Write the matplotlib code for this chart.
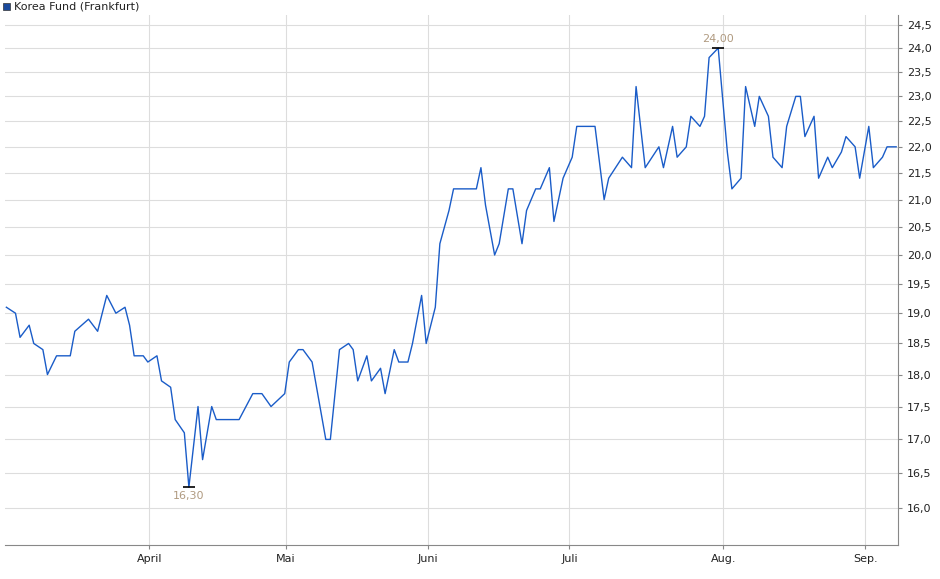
import matplotlib
matplotlib.use("Agg")
import matplotlib.pyplot as plt
import matplotlib.ticker as mticker
import numpy as np

# x position in days counted from 1 March (axis is trading-day spaced), values in EUR
days_since_mar1 = [0, 2, 3, 5, 6, 8, 9, 11, 14, 15, 18, 20, 22, 24, 26, 27, 28, 30, 31, 33,
                   34, 36, 37, 39, 40, 42, 43, 45, 46, 51, 54, 56, 58, 61, 62, 64, 65, 67, 70, 71,
                   73, 75, 76, 77, 79, 80, 82, 83, 85, 86, 88, 89, 91, 92, 94, 95, 97, 98, 103, 104,
                   105, 107, 108, 110, 111, 113, 114, 116, 117, 119, 120, 122, 124, 125, 129, 131, 132, 135, 137, 138,
                   140, 143, 144, 146, 147, 149, 150, 152, 153, 154, 156, 158, 159, 161, 162, 164, 165, 167, 168, 170,
                   171, 173, 174, 175, 177, 178, 180, 181, 183, 184, 186, 187, 189, 190, 192, 193, 195]
prices = [19.1, 19.0, 18.6, 18.8, 18.5, 18.4, 18.0, 18.3, 18.3, 18.7, 18.9, 18.7, 19.3, 19.0, 19.1, 18.8, 18.3, 18.3, 18.2, 18.3,
          17.9, 17.8, 17.3, 17.1, 16.3, 17.5, 16.7, 17.5, 17.3, 17.3, 17.7, 17.7, 17.5, 17.7, 18.2, 18.4, 18.4, 18.2, 17.0, 17.0,
          18.4, 18.5, 18.4, 17.9, 18.3, 17.9, 18.1, 17.7, 18.4, 18.2, 18.2, 18.5, 19.3, 18.5, 19.1, 20.2, 20.8, 21.2, 21.2, 21.6,
          20.9, 20.0, 20.2, 21.2, 21.2, 20.2, 20.8, 21.2, 21.2, 21.6, 20.6, 21.4, 21.8, 22.4, 22.4, 21.0, 21.4, 21.8, 21.6, 23.2,
          21.6, 22.0, 21.6, 22.4, 21.8, 22.0, 22.6, 22.4, 22.6, 23.8, 24.0, 21.9, 21.2, 21.4, 23.2, 22.4, 23.0, 22.6, 21.8, 21.6,
          22.4, 23.0, 23.0, 22.2, 22.6, 21.4, 21.8, 21.6, 21.9, 22.2, 22.0, 21.4, 22.4, 21.6, 21.8, 22.0, 22.0]
month_labels = ["April", "Mai", "Juni", "Juli", "Aug.", "Sep."]
month_pos = [31.3, 61.3, 92.3, 123.4, 157.1, 188.2]
y_ticks = [16.0, 16.5, 17.0, 17.5, 18.0, 18.5, 19.0, 19.5, 20.0, 20.5, 21.0, 21.5,
           22.0, 22.5, 23.0, 23.5, 24.0, 24.5]

fig = plt.figure(figsize=(9.4, 5.79), dpi=100)
ax = fig.add_axes([5 / 940, 34 / 579, 893 / 940, 530 / 579])
ax.plot(days_since_mar1, prices, color="#1a5cc8", linewidth=1.0)

ax.set_yscale("log")
ax.set_ylim(15.49, 24.71)
ax.set_xlim(-0.3, 195.4)
ax.yaxis.set_major_locator(mticker.FixedLocator(y_ticks))
ax.yaxis.set_minor_locator(mticker.NullLocator())
ax.yaxis.set_major_formatter(mticker.FuncFormatter(lambda v, p: f"{v:.1f}".replace(".", ",")))
ax.yaxis.tick_right()
ax.set_xticks(month_pos)
ax.set_xticklabels(month_labels)
ax.tick_params(labelsize=8, length=3, color="#888888", labelcolor="#222222")
ax.grid(True, color="#dddddd", linewidth=0.8)
for s in ["top", "left"]:
    ax.spines[s].set_visible(False)
ax.spines["right"].set_color("#888888")
ax.spines["bottom"].set_color("#888888")

# min / max markers
imin, imax = int(np.argmin(prices)), int(np.argmax(prices))
for i, va, off in [(imin, "top", -3), (imax, "bottom", 3)]:
    ax.plot(days_since_mar1[i], prices[i], marker="_", color="black", markersize=8, mew=1.2)
    ax.annotate(f"{prices[i]:.2f}".replace(".", ","), (days_since_mar1[i], prices[i]),
                xytext=(0, off), textcoords="offset points", ha="center", va=va,
                fontsize=8, color="#b09a80")

fig.patches.append(plt.Rectangle((3 / 940, 1 - 10 / 579), 7 / 940, 7 / 579,
                                 transform=fig.transFigure, facecolor="#1a4a9c", edgecolor="#333333", lw=0.5))
fig.text(14 / 940, 1 - 6.5 / 579, "Korea Fund (Frankfurt)", fontsize=8, va="center", color="#222222")

fig.savefig("out.png", dpi=100)
